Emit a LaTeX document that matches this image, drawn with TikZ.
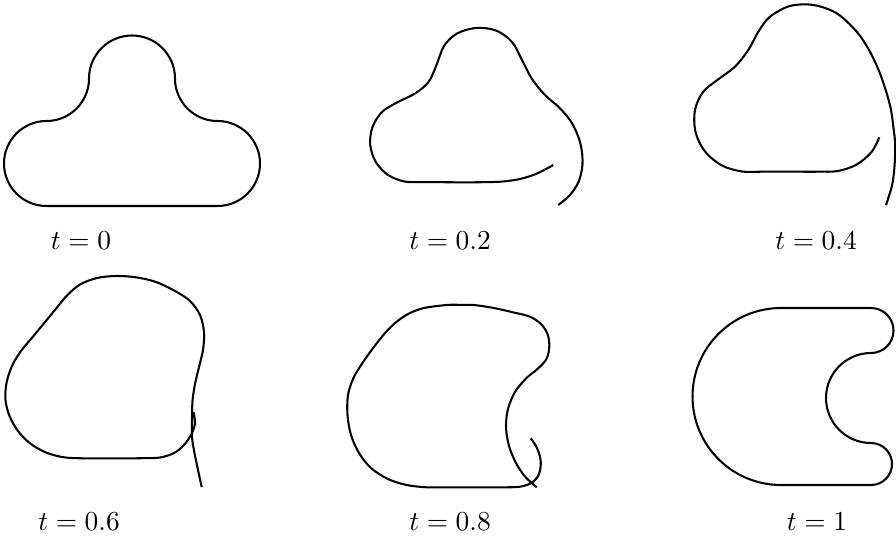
\documentclass[tikz,border=0pt]{standalone}
\usepackage{amsmath}
\usepackage{tikz}

\begin{document}
\begin{tikzpicture}[
  x=0.365pt, y=0.365pt, yscale=-1,
  curve/.style={line width=0.75pt, line join=round},
  lbl/.style={anchor=base, inner sep=0pt},
]
\useasboundingbox (0,0) rectangle (896,538);

% t = 0
\draw[curve] (46.5,206) -- (217.5,206)
  arc[start angle=90, end angle=-90, radius=42.5]
  arc[start angle=90, end angle=180, radius=42.5]
  arc[start angle=0, end angle=-180, radius=43]
  arc[start angle=0, end angle=90, radius=42.5]
  arc[start angle=-90, end angle=-270, radius=42.5] -- cycle;

% t = 0.2
\draw[curve] plot[smooth, tension=0.55] coordinates {
  (553.3,165) (537,173.5) (520,179) (502,181.6) (482,182.2)
  (462,182.3) (442,182.2) (422,182.1) (403.9,181.4) (387.5,174.6)
  (375.5,161.5) (370.2,144.6) (372.5,127) (382,112) (397,102.5)
  (415,93.5) (428.5,82) (436.5,65) (444,46) (457,33.5)
  (476,28) (496,30.5) (512,42) (522,60) (532,79)
  (545,95) (560,108.3) (572.5,124) (580.5,144) (582.5,164)
  (578.5,182) (569.5,195.5) (558.3,205)};

% t = 0.4
\draw[curve] plot[smooth, tension=0.55] coordinates {
  (879.3,137.3) (871.7,151.7) (856.7,164.5) (838,171) (818,171.7)
  (799,171.7) (780,171.7) (761,171.7) (742,171.5) (722,165.5)
  (705,151.5) (695.5,132) (695,110) (703,92) (718,79.5)
  (735,66.7) (748.3,50) (758.3,31.7) (770,16.7) (790,6)
  (813.3,5) (836.7,13.3) (856.7,31.7) (869,50) (879,71)
  (886.7,93.3) (891,110) (893.3,126.7) (895,141.5) (895,156.7)
  (894,172) (891.7,186.7) (886,205)};

% t = 0.6
\draw[curve] plot[smooth, tension=0.55] coordinates {
  (193.5,412) (195,423) (191.5,434) (184,445) (174,453)
  (160,457.5) (142,458.2) (122,458.3) (102,458.3) (83,458.3)
  (64,457.3) (46,452.5) (30,443.3) (18,431) (9.5,416)
  (5.5,400) (6.5,383) (12,366) (21,351) (33.5,336)
  (46.7,320) (57,307.5) (67,295.5) (80,284.5) (97,278)
  (116,276) (136,277.3) (156,282) (175,291) (190,301)
  (200,315) (204,332) (203,350) (199,367) (195,384)
  (192.5,401) (192,420) (192,437) (194.5,453) (198,470)
  (201.7,487)};

% t = 0.8
\draw[curve] plot[smooth, tension=0.55] coordinates {
  (530.7,438.3) (537,448) (540.7,461) (539,474) (532,482.5)
  (520,486.7) (502,487.3) (483,487.3) (464,487.3) (445,487.3)
  (426.7,487.3) (406.7,485) (388,479) (371,468) (359,453)
  (351,435) (347.5,415) (348,395) (353,379) (360,366.7)
  (368,355) (376.7,343.3) (386,332) (396.7,321.7) (409,313.5)
  (424,308) (446.7,305) (460,304.8) (473.3,305) (487,306.8)
  (500,309.3) (515,312.8) (530,316.7) (541,324) (547.5,334)
  (549.3,346) (546.7,358.5) (538,368.5) (526,378.5) (515,392)
  (508,409) (506,427) (509,446) (516,463) (525,476.5)
  (536.7,487.3)};

% t = 1
\draw[curve] (781,308) -- (871,308)
  arc[start angle=-90, end angle=90, radius=22.5]
  arc[start angle=-90, end angle=-270, radius=45]
  arc[start angle=-90, end angle=90, radius=21]
  -- (781,485)
  arc[start angle=90, end angle=270, radius=88.5] -- cycle;

\node[lbl] (lab0) at (81,249) {$t=0$};
\node[lbl] (lab2) at (450,249) {$t=0.2$};
\node[lbl] (lab4) at (816,249) {$t=0.4$};
\node[lbl] (lab6) at (79,530) {$t=0.6$};
\node[lbl] (lab8) at (450,530) {$t=0.8$};
\node[lbl] (lab10) at (817,530) {$t=1$};
\end{tikzpicture}
\end{document}
